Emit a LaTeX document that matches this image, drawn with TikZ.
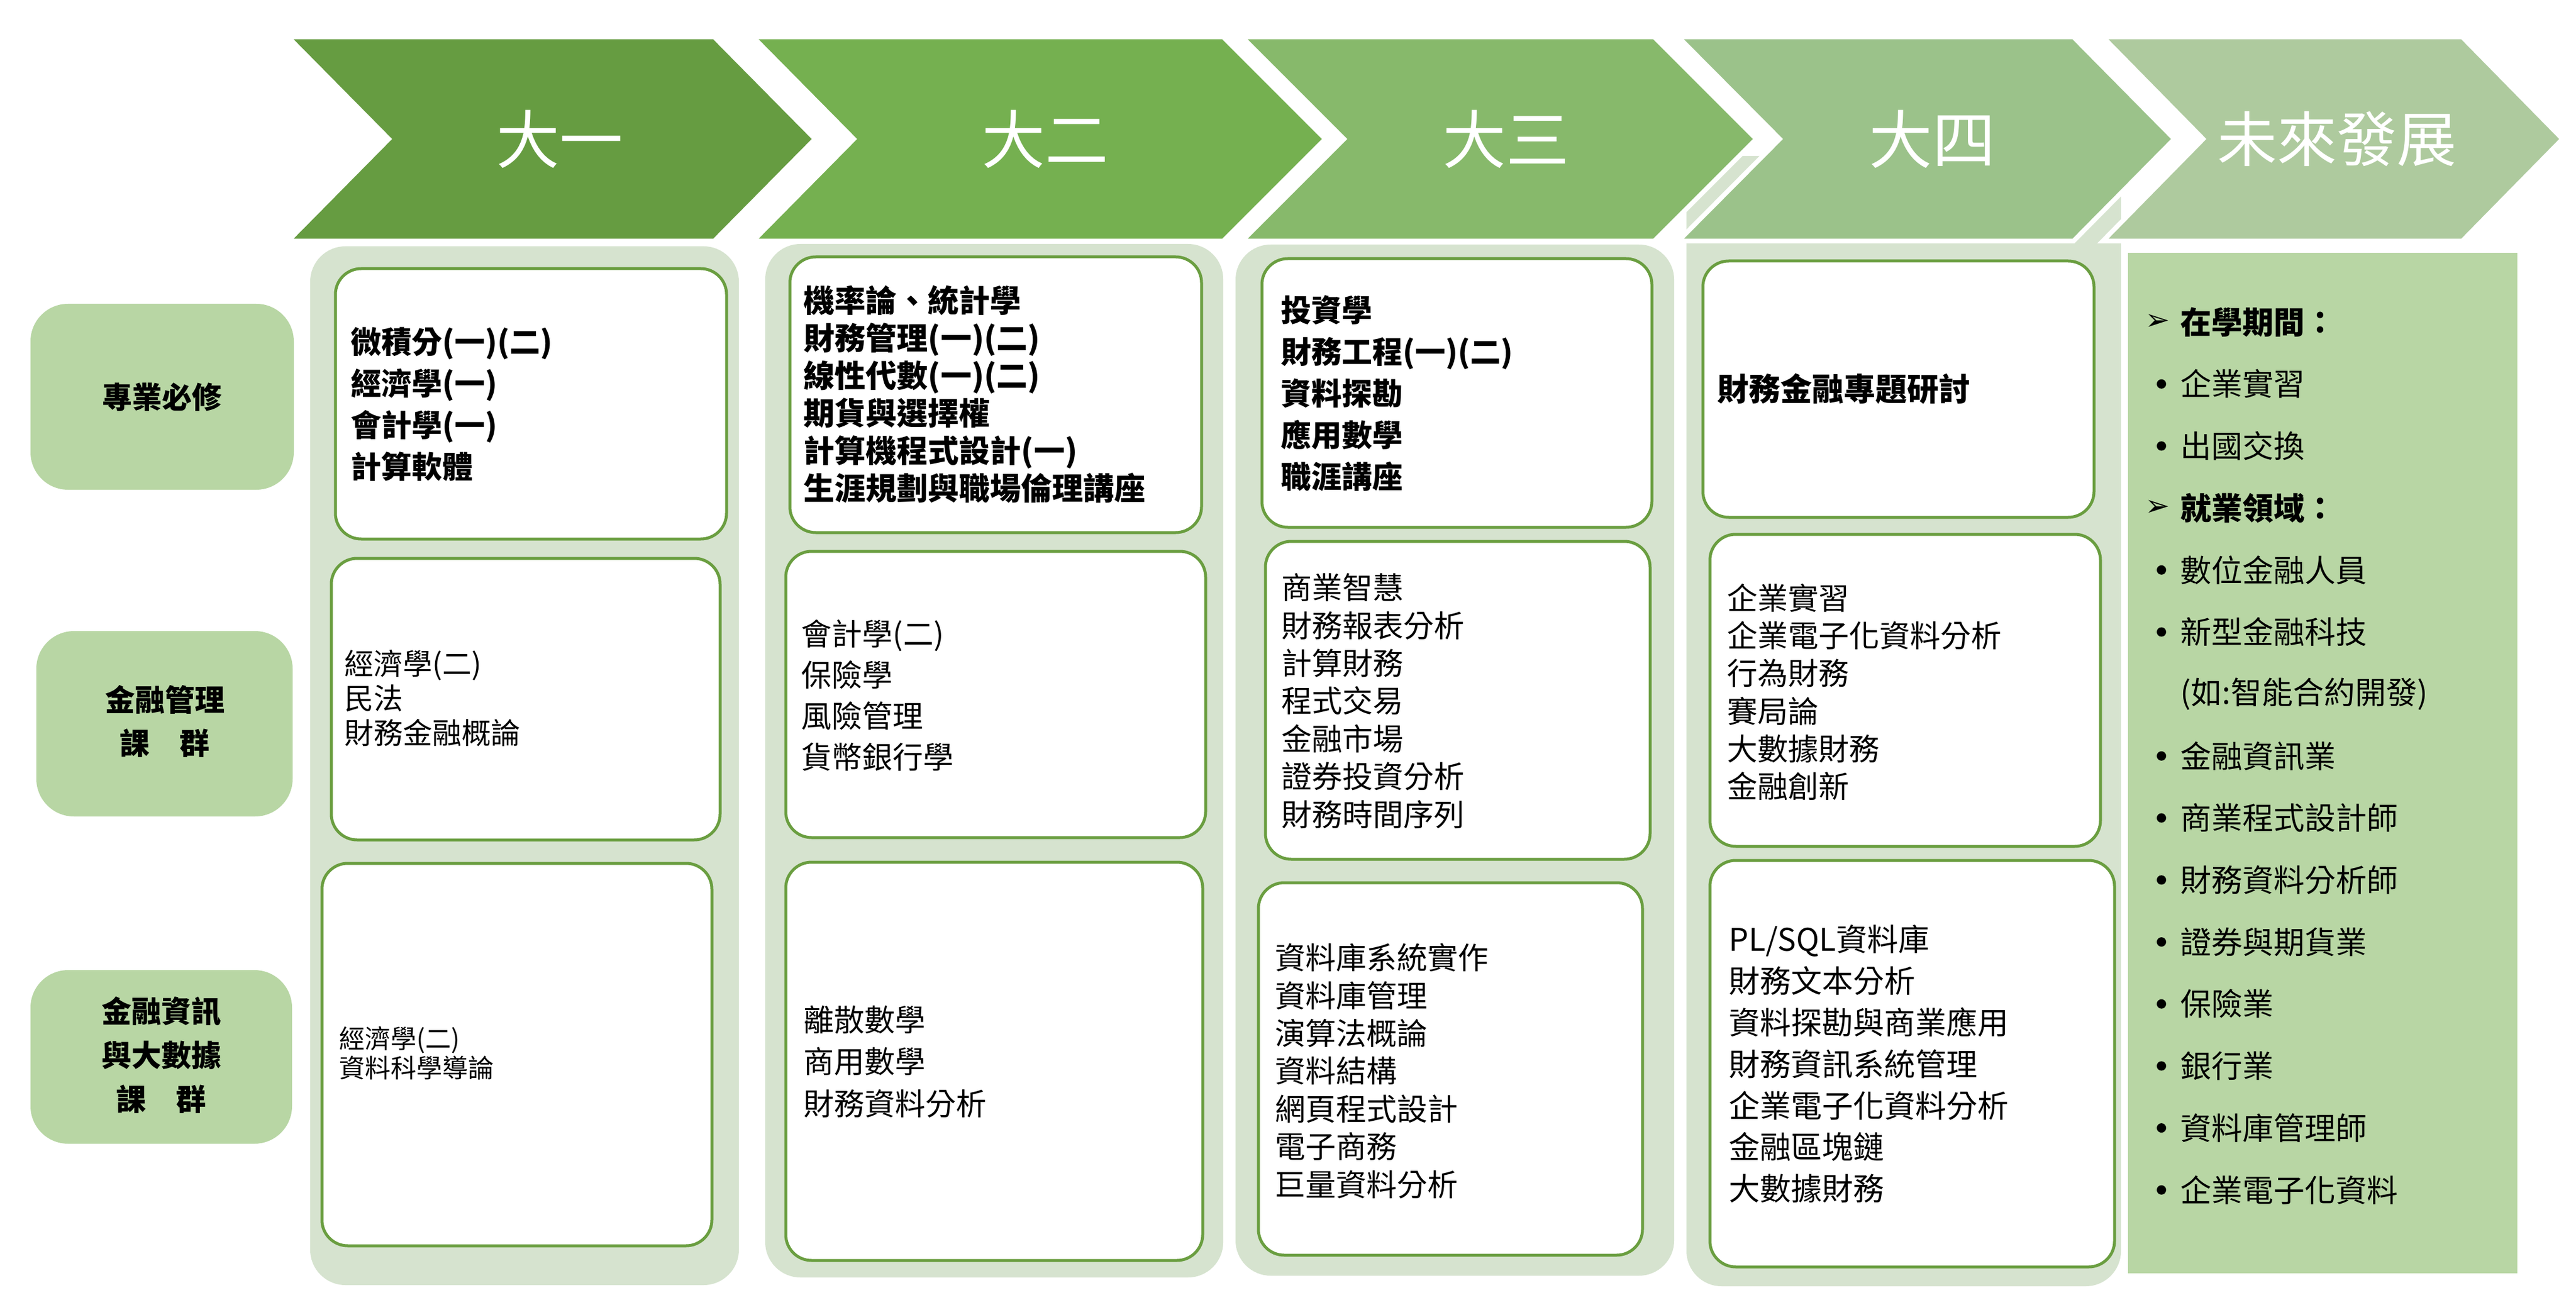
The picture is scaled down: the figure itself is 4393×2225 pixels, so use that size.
\documentclass[tikz,border=0pt]{standalone}
\usepackage{fontspec}
\setmainfont{Noto Sans CJK TC}
\newfontfamily\dejavu{DejaVu Sans}
\definecolor{chevA}{RGB}{102,156,65}
\definecolor{chevB}{RGB}{117,176,80}
\definecolor{chevC}{RGB}{135,185,107}
\definecolor{chevD}{RGB}{155,194,138}
\definecolor{chevE}{RGB}{174,202,158}
\definecolor{lblc}{RGB}{184,214,164}
\definecolor{colbg}{RGB}{214,227,207}
\definecolor{bordc}{RGB}{106,158,64}
\begin{document}
\begin{tikzpicture}[x=0.25pt,y=-0.25pt,
  chevshape/.style={fill=#1,draw=white,line width=2pt,line join=miter},
  chevtext/.style={text=white,inner sep=0pt,font=\fontsize{27}{30}\selectfont},
  colback/.style={fill=colbg,rounded corners=15pt},
  wbox/.style={draw=bordc,line width=1.25pt,fill=white,rounded corners=11pt},
  lblbox/.style={fill=lblc,rounded corners=16pt},
  lbltext/.style={align=center,inner sep=0pt,font=\bfseries\fontsize{12.75}{18.5}\selectfont},
  txt/.style={anchor=west,align=left,inner sep=0pt},
  itemtext/.style={anchor=west,inner sep=0pt,font=\fontsize{13.25}{15}\selectfont}]
\useasboundingbox (0,0) rectangle (4393,2225);

% column backgrounds
\fill[colback] (529,420) rectangle (1260,2191);
\fill[colback] (1305,416) rectangle (2086,2178);
\fill[colback] (2107,417) rectangle (2855,2175);
\fill[colback] (2876,266) rectangle (3617,2193);
\fill[colbg] (2876,266) rectangle (3617,700);
\fill[lblc] (3629,431) rectangle (4293,2171);

% chevrons
\path[chevshape=chevA] (491,63) -- (1218,63) -- (1390,237) -- (1218,411) -- (491,411) -- (663,237) -- cycle;
\path[chevshape=chevB] (1284,63) -- (2086,63) -- (2260,237) -- (2086,411) -- (1284,411) -- (1456,237) -- cycle;
\path[chevshape=chevC] (2118,63) -- (2821,63) -- (2995,237) -- (2821,411) -- (2118,411) -- (2292,237) -- cycle;
\path[chevshape=chevD] (2862,63) -- (3536,63) -- (3708,237) -- (3536,411) -- (2862,411) -- (3035,237) -- cycle;
\path[chevshape=chevE] (3586,63) -- (4199,63) -- (4370,237) -- (4199,411) -- (3586,411) -- (3757,237) -- cycle;
\node[chevtext] (y1) at (954,237) {大一};
\node[chevtext] (y2) at (1782,237) {大二};
\node[chevtext] (y3) at (2568,237) {大三};
\node[chevtext] (y4) at (3295,237) {大四};
\node[chevtext,font=\fontsize{25.5}{28}\selectfont] (y5) at (3985,237) {未來發展};

% left labels
\fill[lblbox] (52,518) rectangle (501,835);
\fill[lblbox] (62,1076) rectangle (499,1392);
\fill[lblbox] (52,1654) rectangle (498,1950);
\node[lbltext] (l1) at (276,677) {專業必修};
\node[lbltext] (l2) at (281,1230) {金融管理\\課　群};
\node[lbltext,font=\bfseries\fontsize{12.75}{18.75}\selectfont] (l3) at (275,1799) {金融資訊\\與大數據\\課　群};

% white boxes
\draw[wbox] (572,458) rectangle (1239,919);
\draw[wbox] (565,952) rectangle (1228,1432);
\draw[wbox] (549,1472) rectangle (1214,2124);
\draw[wbox] (1347,438) rectangle (2049,908);
\draw[wbox] (1340,940) rectangle (2056,1428);
\draw[wbox] (1340,1470) rectangle (2051,2149);
\draw[wbox] (2152,441) rectangle (2817,899);
\draw[wbox] (2158,923) rectangle (2814,1465);
\draw[wbox] (2146,1505) rectangle (2801,2140);
\draw[wbox] (2904,445) rectangle (3571,882);
\draw[wbox] (2916,911) rectangle (3582,1443);
\draw[wbox] (2916,1467) rectangle (3606,2160);

% texts
\node[txt,font=\bfseries\fontsize{13}{17.75}\selectfont] (t1a) at (598,689) {微積分(一)(二)\\經濟學(一)\\會計學(一)\\計算軟體};
\node[txt,font=\fontsize{12.5}{14.75}\selectfont] (t1b) at (587,1190) {經濟學(二)\\民法\\財務金融概論};
\node[txt,font=\fontsize{11}{12.5}\selectfont] (t1c) at (578,1796) {經濟學(二)\\資料科學導論};
\node[txt,font=\bfseries\fontsize{13.25}{16}\selectfont] (t2a) at (1370,672) {機率論、統計學\\財務管理(一)(二)\\線性代數(一)(二)\\期貨與選擇權\\計算機程式設計(一)\\生涯規劃與職場倫理講座};
\node[txt,font=\fontsize{13}{17.5}\selectfont] (t2b) at (1366,1186) {會計學(二)\\保險學\\風險管理\\貨幣銀行學};
\node[txt,font=\fontsize{13}{17.9}\selectfont] (t2c) at (1370,1810) {離散數學\\商用數學\\財務資料分析};
\node[txt,font=\bfseries\fontsize{13}{17.75}\selectfont] (t3a) at (2184,671) {投資學\\財務工程(一)(二)\\資料探勘\\應用數學\\職涯講座};
\node[txt,font=\fontsize{13}{16.1}\selectfont] (t3b) at (2185,1195) {商業智慧\\財務報表分析\\計算財務\\程式交易\\金融市場\\證券投資分析\\財務時間序列};
\node[txt,font=\fontsize{13}{16.1}\selectfont] (t3c) at (2174,1826) {資料庫系統實作\\資料庫管理\\演算法概論\\資料結構\\網頁程式設計\\電子商務\\巨量資料分析};
\node[txt,font=\bfseries\fontsize{13.5}{16}\selectfont] (t4a) at (2928,663) {財務金融專題研討};
\node[txt,font=\fontsize{13}{16.05}\selectfont] (t4b) at (2945,1180) {企業實習\\企業電子化資料分析\\行為財務\\賽局論\\大數據財務\\金融創新};
\node[txt,font=\fontsize{13.25}{17.7}\selectfont] (t4c) at (2948,1814) {PL/SQL資料庫\\財務文本分析\\資料探勘與商業應用\\財務資訊系統管理\\企業電子化資料分析\\金融區塊鏈\\大數據財務};

% future column
\foreach \t/\k [count=\i from 0] in {在學期間：/h,企業實習/b,出國交換/b,就業領域：/h,數位金融人員/b,新型金融科技/b,(如:智能合約開發)/n,金融資訊業/b,商業程式設計師/b,財務資料分析師/b,證券與期貨業/b,保險業/b,銀行業/b,資料庫管理師/b,企業電子化資料/b}{
  \pgfmathsetmacro{\yy}{549+\i*105.7}
  \if h\k
    \node[inner sep=0pt,font=\dejavu\fontsize{12.5}{14}\selectfont] (m\i) at (3679,\yy) {➢};
    \node[itemtext,font=\bfseries\fontsize{13.25}{15}\selectfont] (f\i) at (3718,\yy) {\t};
  \else
    \if b\k
      \node[circle,fill=black,inner sep=0pt,minimum size=4pt] (m\i) at (3686,\yy) {};
    \fi
    \node[itemtext] (f\i) at (3718,\yy) {\t};
  \fi
}
\end{tikzpicture}
\end{document}
